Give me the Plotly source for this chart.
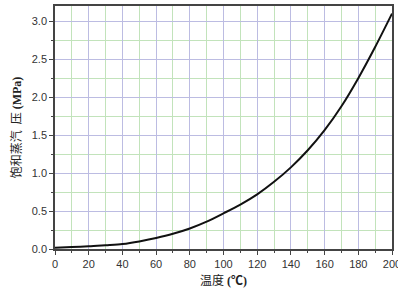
import plotly.graph_objects as go

temperature = [0, 10, 20, 30, 40, 50, 60, 70, 80, 90, 100, 110, 120, 130, 140, 150, 160, 170, 180, 190, 200]
pressure = [0.015, 0.025, 0.035, 0.05, 0.066, 0.10, 0.145, 0.20, 0.27, 0.36, 0.47, 0.585, 0.72, 0.885, 1.075, 1.30, 1.565, 1.88, 2.25, 2.66, 3.10]

x_ticks = [0, 20, 40, 60, 80, 100, 120, 140, 160, 180, 200]
y_ticks = [0.0, 0.5, 1.0, 1.5, 2.0, 2.5, 3.0]

fig = go.Figure()
fig.add_trace(go.Scatter(x=temperature, y=pressure, mode="lines",
                         line=dict(color="#111111", width=2, shape="spline", smoothing=0.8),
                         showlegend=False, hoverinfo="skip"))

axis_common = dict(
    showline=True, linecolor="#444444", linewidth=1.5, mirror=True,
    ticks="outside", ticklen=4, tickwidth=1, tickcolor="#444444",
    tickfont=dict(family="Liberation Sans, Arial", size=11, color="#333333"),
    showgrid=True, gridcolor="#bcbce2", gridwidth=1,
    zeroline=False, ticklabeloverflow="allow", automargin=False,
)

fig.update_xaxes(
    range=[0, 200], tickvals=x_ticks, ticktext=[str(v) for v in x_ticks],
    minor=dict(dtick=10, showgrid=True, gridcolor="#c2e3bb", gridwidth=1,
               ticks="outside", ticklen=2, tickcolor="#444444"),
    title=dict(text="温度 <b>(℃)</b>", font=dict(family="Liberation Serif, Noto Sans CJK SC", size=12, color="#222222"), standoff=8),
    **axis_common,
)
fig.update_yaxes(
    range=[0, 3.2], tickvals=y_ticks, ticktext=[f"{v:.1f}" for v in y_ticks],
    minor=dict(dtick=0.25, showgrid=True, gridcolor="#c2e3bb", gridwidth=1,
               ticks="outside", ticklen=2, tickcolor="#444444"),
    title=dict(text="饱和蒸汽\u2002压 <b>(MPa)</b>", font=dict(family="Liberation Serif, Noto Sans CJK SC", size=12, color="#222222"), standoff=8),
    **axis_common,
)

fig.update_layout(
    width=398, height=289,
    margin=dict(l=55, r=6, t=6, b=40),
    paper_bgcolor="white", plot_bgcolor="white",
)

fig.write_html("out.html")
